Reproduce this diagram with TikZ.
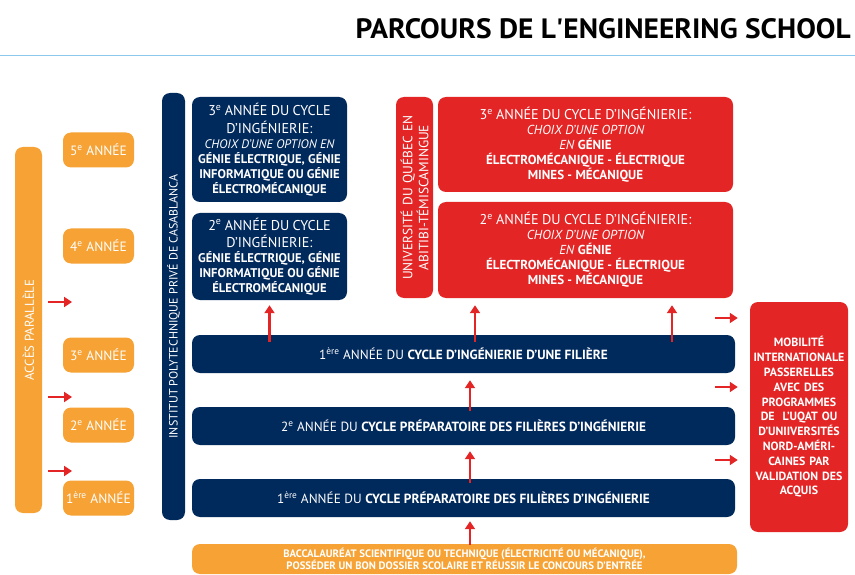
\documentclass[tikz,border=0pt]{standalone}
\usepackage{fontspec}
\setmainfont{PT Sans}
\usetikzlibrary{arrows.meta}
\definecolor{navy}{RGB}{0,41,92}
\definecolor{orng}{RGB}{246,162,52}
\definecolor{rd}{RGB}{227,37,38}
\definecolor{lblue}{RGB}{140,200,235}
\newcommand{\fbig}{\fontsize{14.2}{17.5}\selectfont}
\newcommand{\fmid}{\fontsize{12.4}{15}\selectfont}
\newcommand{\fbold}{\fontsize{12.6}{15}\selectfont\bfseries}
\begin{document}
\begin{tikzpicture}[x=1pt,y=-1pt,
  box/.style={rounded corners=8pt, inner sep=0pt, align=center, text=white},
  nb/.style={box, fill=navy},
  ob/.style={box, fill=orng},
  rb/.style={box, fill=rd},
  arr/.style={draw=rd, line width=2.8pt, -{Triangle[length=8pt,width=10pt]}},
]
\useasboundingbox (0,0) rectangle (855,575);
% title
\node[anchor=east, inner sep=0pt] (title) at (851,29)
  {\scalebox{1.05}[1]{\fontsize{28}{30}\selectfont\bfseries PARCOURS DE L\textquotesingle ENGINEERING SCHOOL}};
\draw[lblue, line width=1pt] (0,56) -- (855,56);

% left column
\node[ob, rotate=90, minimum width=366pt, minimum height=27pt, font=\fontsize{12.8}{15}\selectfont] (acc) at (28.5,330) {ACCÈS PARALLÈLE};
\foreach \n/\y/\t in {y5/150/5\textsuperscript{e},y4/246/4\textsuperscript{e},y3/355/3\textsuperscript{e},y2/425/2\textsuperscript{e},y1/498/1\textsuperscript{ère}}
  \node[ob, minimum width=71pt, minimum height=35pt, font=\fontsize{13.5}{16}\selectfont] (\n) at (98.5,\y) {\t\ ANNÉE};

\coordinate (la1) at (48,302); \coordinate (la1e) at (72,302);
\coordinate (la2) at (48,397); \coordinate (la2e) at (72,397);
\coordinate (la3) at (48,471); \coordinate (la3e) at (72,471);
\draw[arr] (la1) -- (la1e);
\draw[arr] (la2) -- (la2e);
\draw[arr] (la3) -- (la3e);

% IPC bar
\node[nb, rotate=90, minimum width=427pt, minimum height=23pt, font=\fontsize{12}{14}\selectfont] (ipc) at (173.5,306.5) {INSTITUT POLYTECHNIQUE PRIVÉ DE CASABLANCA};

% top blue boxes
\node[nb, minimum width=155pt, minimum height=105pt, text width=152pt] (b3) at (269.5,149.5)
 {{\fbig 3\textsuperscript{e} ANNÉE DU CYCLE\\ D’INGÉNIERIE:\par}
  {\fmid\itshape CHOIX D’UNE OPTION EN\par}
  {\fbold GÉNIE ÉLECTRIQUE, GÉNIE\\ INFORMATIQUE OU GÉNIE\\ ÉLECTROMÉCANIQUE\par}};
\node[nb, minimum width=155pt, minimum height=87pt, text width=152pt] (b2) at (269.5,256.5)
 {{\fbig 2\textsuperscript{e} ANNÉE DU CYCLE\\ D’INGÉNIERIE:\par}
  {\fbold GÉNIE ÉLECTRIQUE, GÉNIE\\ INFORMATIQUE OU GÉNIE\\ ÉLECTROMÉCANIQUE\par}};

% UQAT
\node[rb, rotate=90, minimum width=201pt, minimum height=37pt, text width=196pt, font=\fontsize{13.4}{16}\selectfont] (uqat) at (414.5,197.5)
 {UNIVERSITÉ DU QUÉBEC EN\\ ABITIBI-TÉMISCAMINGUE};

% red boxes
\node[rb, minimum width=295pt, minimum height=95pt, text width=290pt] (r3) at (585.5,144.5)
 {{\fbig 3\textsuperscript{e} ANNÉE DU CYCLE D’INGÉNIERIE:\par}
  {\fontsize{13}{15}\selectfont\itshape CHOIX D’UNE OPTION\par}
  {\fontsize{13}{15}\selectfont\textit{EN} \textbf{GÉNIE}\\ \bfseries ÉLECTROMÉCANIQUE - ÉLECTRIQUE\\ MINES - MÉCANIQUE\par}};
\node[rb, minimum width=295pt, minimum height=96pt, text width=290pt] (r2) at (585.5,250)
 {{\fbig 2\textsuperscript{e} ANNÉE DU CYCLE D’INGÉNIERIE:\par}
  {\fontsize{13}{15}\selectfont\itshape CHOIX D’UNE OPTION\par}
  {\fontsize{13}{15}\selectfont\textit{EN} \textbf{GÉNIE}\\ \bfseries ÉLECTROMÉCANIQUE - ÉLECTRIQUE\\ MINES - MÉCANIQUE\par}};

% wide bars
\tikzset{barfont/.style={font=\fontsize{13.3}{15}\selectfont}}
\node[nb, barfont, minimum width=543pt, minimum height=38pt] (bar1) at (463.5,354)
 {1\textsuperscript{ère} ANNÉE DU \textbf{CYCLE D’INGÉNIERIE D’UNE FILIÈRE}};
\node[nb, barfont, minimum width=543pt, minimum height=38pt] (bar2) at (463.5,426)
 {2\textsuperscript{e} ANNÉE DU \textbf{CYCLE PRÉPARATOIRE DES FILIÈRES D’INGÉNIERIE}};
\node[nb, barfont, minimum width=543pt, minimum height=38pt] (bar3) at (463.5,498)
 {1\textsuperscript{ère} ANNÉE DU \textbf{CYCLE PRÉPARATOIRE DES FILIÈRES D’INGÉNIERIE}};
\node[ob, minimum width=545pt, minimum height=30pt, font=\fontsize{10.8}{12}\selectfont\bfseries] (bac) at (464.5,559)
 {BACCALAURÉAT SCIENTIFIQUE OU TECHNIQUE (ÉLECTRICITÉ OU MÉCANIQUE),\\ POSSÉDER UN BON DOSSIER SCOLAIRE ET RÉUSSIR LE CONCOURS D’ENTRÉE};

% mobility
\node[rb, minimum width=98pt, minimum height=230pt, text width=97pt, font=\fontsize{11.9}{14.8}\selectfont\bfseries] (mob) at (799,417)
 {MOBILITÉ\\ INTERNATIONALE\\ PASSERELLES\\ AVEC DES\\ PROGRAMMES\\ DE\ \ L’UQAT OU\\ D’UNIIVERSITÉS\\ NORD-AMÉRI-\\ CAINES PAR\\ VALIDATION DES\\ ACQUIS};

% up arrows
\draw[arr] ([yshift=-7pt]bar1.north -| b2.south) -- ([yshift=-5pt]b2.south);
\draw[arr] ([xshift=-110.5pt,yshift=-7pt]bar1.north -| r2.south) -- ([xshift=-110.5pt,yshift=-7pt]r2.south);
\draw[arr] ([xshift=86.5pt,yshift=-7pt]bar1.north -| r2.south) -- ([xshift=86.5pt,yshift=-7pt]r2.south);
\draw[arr] ([xshift=6.5pt,yshift=-4pt]bar2.north) -- ([xshift=6.5pt,yshift=-7pt]bar1.south);
\draw[arr] ([xshift=6.5pt,yshift=-4pt]bar3.north) -- ([xshift=6.5pt,yshift=-6pt]bar2.south);
\draw[arr] ([xshift=5.5pt,yshift=-1pt]bac.north) -- ([xshift=6.5pt,yshift=-4pt]bar3.south);

% right arrows
\coordinate (ra1) at (715,318);
\coordinate (ra2) at (715,387);
\coordinate (ra3) at (715,460);
\draw[arr, shorten >=12pt] (ra1) -- (ra1 -| mob.west);
\draw[arr, shorten >=12pt] (ra2) -- (ra2 -| mob.west);
\draw[arr, shorten >=12pt] (ra3) -- (ra3 -| mob.west);
\end{tikzpicture}
\end{document}
